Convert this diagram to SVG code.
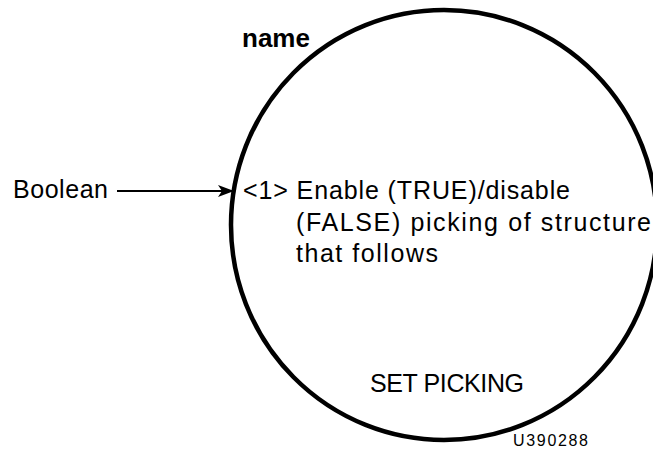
<svg xmlns="http://www.w3.org/2000/svg" width="653" height="452" viewBox="0 0 653 452">
<style>
text{font-family:"Liberation Sans",Arial,sans-serif;fill:#000;font-size:25px}
.b{font-weight:bold;font-size:26px}
.t{font-size:25px}
.s{font-size:16px}
</style>
<defs>
<marker id="ah" markerWidth="16" markerHeight="12" refX="15" refY="6" orient="auto" markerUnits="userSpaceOnUse">
<path d="M0,0 L16,6 L0,12 L4,6 Z" fill="#000"/>
</marker>
</defs>
<rect width="653" height="452" fill="#fff"/>
<g id="node-set-picking">
<ellipse cx="444" cy="225" rx="213" ry="215" fill="none" stroke="#000" stroke-width="4.5"/>
<text class="b" x="242" y="47">name</text>
<text x="243" y="199" textLength="327">&lt;1&gt; Enable (TRUE)/disable</text>
<text x="296" y="231" textLength="355">(FALSE) picking of structure</text>
<text x="296" y="262" textLength="142">that follows</text>
<text class="t" x="370" y="392" textLength="154">SET PICKING</text>
</g>
<g id="node-boolean">
<text x="13" y="198" textLength="95">Boolean</text>
</g>
<g id="connectors">
<line x1="117" y1="191" x2="233" y2="191" stroke="#000" stroke-width="2" marker-end="url(#ah)"/>
</g>
<text class="s" x="513" y="446" textLength="75">U390288</text>
</svg>
